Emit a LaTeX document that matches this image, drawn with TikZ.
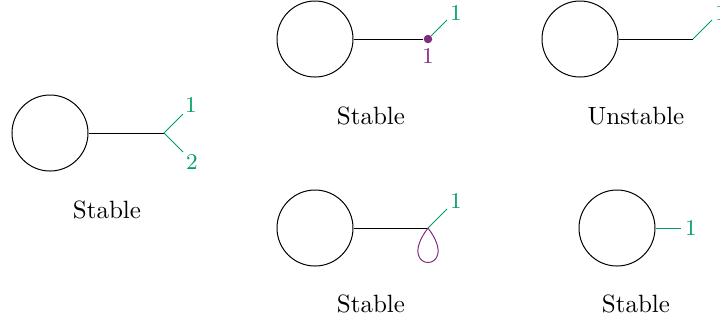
\documentclass[tikz,border=0pt]{standalone}
\usetikzlibrary{positioning}
\usetikzlibrary{calc}
\definecolor{legcol}{RGB}{0,158,96}
\definecolor{markcol}{RGB}{128,45,128}
\begin{document}
\begin{tikzpicture}[x=0.4pt,y=-0.4pt,auto]
		\tikzstyle{surface}=[draw,circle,minimum size=30.4pt,inner sep=0pt]
		\tikzstyle{leg}=[draw=legcol]
		\tikzstyle{leglabel}=[text=legcol,font=\small,inner sep=0pt]
		\tikzstyle{marklabel}=[text=markcol,font=\small,inner sep=0pt]
		\tikzstyle{caption}=[inner sep=0pt]
		
		\useasboundingbox (0,0) rectangle (720,323);
		
		% left: two legs
		\node[surface]       (A)   at (50,133)  {};
		\coordinate          (A_v) at (164,133);
		\coordinate          (A_1) at (183,114);
		\coordinate          (A_2) at (183,152);
		\node[leglabel]      (A_l1) at (191,105) {1};
		\node[leglabel]      (A_l2) at (192,162) {2};
		\node[caption]       (A_c) at (107,210) {Stable};
		\draw (A) -- (A_v);
		\draw[leg] (A_v) -- (A_1);
		\draw[leg] (A_v) -- (A_2);
		
		% top middle: marked point
		\node[surface]       (B)   at (315,39)  {};
		\node[circle,fill=markcol,inner sep=0pt,minimum size=3.4pt] (B_v) at (428,39) {};
		\coordinate          (B_1) at (447,20);
		\node[leglabel]      (B_l1) at (456,13) {1};
		\node[marklabel]     (B_m) at (428,56) {1};
		\node[caption]       (B_c) at (371,116) {Stable};
		\draw (B) -- (B_v);
		\draw[leg] (B_v) -- (B_1);
		
		% top right
		\node[surface]       (C)   at (580,39)  {};
		\coordinate          (C_v) at (693,39);
		\coordinate          (C_1) at (712,20);
		\node[leglabel]      (C_l1) at (721,13) {1};
		\node[caption]       (C_c) at (636,116) {Unstable};
		\draw (C) -- (C_v);
		\draw[leg] (C_v) -- (C_1);
		
		% bottom middle: loop
		\node[surface]       (D)   at (315,228) {};
		\coordinate          (D_v) at (428,228);
		\coordinate          (D_1) at (447,209);
		\node[leglabel]      (D_l1) at (456,201) {1};
		\node[caption]       (D_c) at (371,304) {Stable};
		\draw (D) -- (D_v);
		\draw[leg] (D_v) -- (D_1);
		\draw[markcol] (D_v) .. controls (393,274) and (463,274) .. (D_v);
		
		% bottom right
		\node[surface]       (E)   at (617,228) {};
		\coordinate          (E_1) at (681,228);
		\node[leglabel]      (E_l1) at (691,228) {1};
		\node[caption]       (E_c) at (636,304) {Stable};
		\draw[leg] (E) -- (E_1);
\end{tikzpicture}
\end{document}
